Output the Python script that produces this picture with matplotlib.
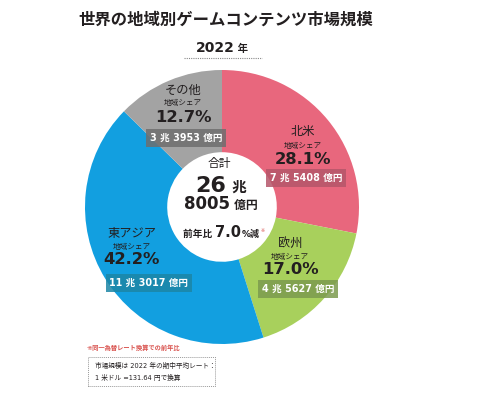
import matplotlib.pyplot as plt
from matplotlib.lines import Line2D
from matplotlib.patches import Rectangle

# wide latin digits from DejaVu, Japanese glyphs fall back to Noto CJK
plt.rcParams['font.family'] = ['DejaVu Sans', 'Noto Sans CJK JP']

# data
regions = ['北米', '欧州', '東アジア', 'その他']
shares = [28.1, 17.0, 42.2, 12.7]
amounts = ['7 兆 5408 億円', '4 兆 5627 億円', '11 兆 3017 億円', '3 兆 3953 億円']
total_cho = '26'
total_oku = '8005'
yoy = '7.0'

colors = ['#E8677D', '#A8D05C', '#129FE0', '#A3A3A3']
box_colors = ['#B5566A', '#7C9A4E', '#1C86A6', '#6E6E6E']
# label anchor (x, y of region name) in pixels
label_pos = [(303, 132), (290, 243), (132, 233), (183, 90)]
box_pos = [(306, 178), (298, 289), (149, 283), (186, 138)]

W, H = 489, 394
fig = plt.figure(figsize=(W / 100, H / 100), dpi=100)
renderer = fig.canvas.get_renderer()
dark = '#231F20'


def fx(x):
    return x / W


def fy(y):
    return 1 - y / H


def rich(x, y, parts, color=dark):
    # parts: (text, size) drawn side by side, centred on x, baseline y
    txts = []
    for s, size in parts:
        t = fig.text(0, fy(y), s, fontsize=size, fontweight='bold',
                     color=color, va='baseline', ha='left')
        txts.append(t)
    widths = [t.get_window_extent(renderer).width for t in txts]
    cur = x - sum(widths) / 2
    for t, w in zip(txts, widths):
        t.set_x(fx(cur))
        cur += w
    return cur


ax = fig.add_axes([fx(85), fy(344), 274 / W, 274 / H])
ax.pie(shares, colors=colors, startangle=90, counterclock=False,
       wedgeprops=dict(width=0.6, linewidth=0))
ax.set_xlim(-1, 1)
ax.set_ylim(-1, 1)
ax.axis('off')

# title
fig.text(fx(226), fy(20), '世界の地域別ゲームコンテンツ市場規模', fontsize=11.8,
         fontweight='bold', color=dark, ha='center', va='center')
rich(222, 52, [('2022', 10), (' 年', 7.5)])
fig.add_artist(Line2D([fx(184), fx(262)], [fy(58), fy(58)], color='#888888',
                      linestyle=(0, (1, 1)), linewidth=0.8, transform=fig.transFigure))

# region labels
for i in range(len(regions)):
    lx, ly = label_pos[i]
    fig.text(fx(lx), fy(ly), regions[i], fontsize=8.8, color=dark,
             ha='center', va='center')
    fig.text(fx(lx), fy(ly + 13), '地域シェア', fontsize=5.5, color=dark,
             ha='center', va='center')
    fig.text(fx(lx), fy(ly + 27), f'{shares[i]:.1f}%', fontsize=11.8,
             fontweight='bold', color=dark, ha='center', va='center')
    bx, by = box_pos[i]
    fig.text(fx(bx), fy(by), amounts[i], fontsize=6.9, fontweight='bold',
             color='white', ha='center', va='center',
             bbox=dict(boxstyle='square,pad=0.4', facecolor=box_colors[i],
                       edgecolor='none', alpha=0.85))

# centre
fig.text(fx(219), fy(164), '合計', fontsize=8.5, color=dark, ha='center', va='center')
rich(221, 192, [(total_cho, 16), (' 兆', 10.5)])
rich(221, 209, [(total_oku, 12), (' 億円', 8.5)])
end = rich(221, 237, [('前年比 ', 7), (yoy, 10.5), ('%減', 6.5)])
fig.text(fx(end + 1), fy(230), '※', fontsize=3.5, color='#D9534F', ha='left', va='center')

# notes
fig.text(fx(87), fy(348), '※同一為替レート換算での前年比', fontsize=4.5,
         color='#D9534F', fontweight='bold', ha='left', va='center')
fig.add_artist(Rectangle((fx(88), fy(386)), (215 - 88) / W, (386 - 357) / H,
                         transform=fig.transFigure, fill=False, edgecolor='#999999',
                         linestyle=(0, (1, 1)), linewidth=0.7))
fig.text(fx(95), fy(365), '市場規模は 2022 年の期中平均レート：', fontsize=4.8,
         color=dark, ha='left', va='center')
fig.text(fx(95), fy(377), '1 米ドル =131.64 円で換算', fontsize=4.8,
         color=dark, ha='left', va='center')

fig.savefig('out.png', dpi=100)
